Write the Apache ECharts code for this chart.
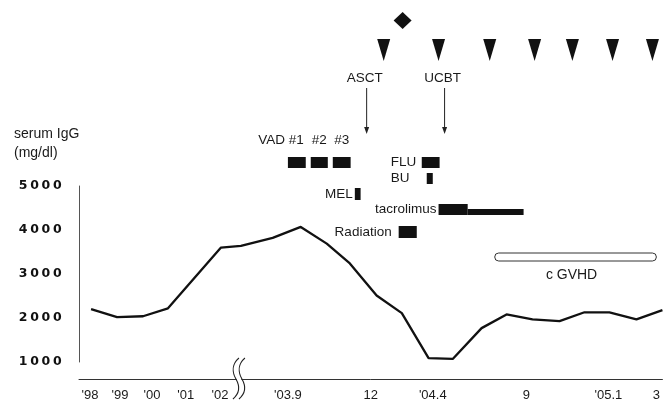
<!DOCTYPE html>
<html><head><meta charset="utf-8">
<script src="https://cdn.jsdelivr.net/npm/echarts@6/dist/echarts.min.js"></script>
<style>html,body{margin:0;padding:0;background:#fff}#c{width:663px;height:404px}</style>
</head><body><div id="c"></div>
<script>
// ---- data (x positions are in units along the broken, non-linear time axis) ----
const igX = [0.46,1.45,2.44,3.39,5.41,6.17,7.38,8.45,9.44,10.32,11.34,12.30,13.32,14.24,15.34,16.29,17.28,18.31,19.26,20.21,21.24,22.23];
const igG = [2200,2020,2040,2220,3600,3640,3820,4070,3690,3240,2510,2110,1090,1070,1770,2080,1970,1930,2130,2130,1970,2180];
const tickPos = [0.42,1.56,2.78,4.07,5.37,7.96,11.12,13.48,17.05,20.17,22.0];
const tickText = ["'98","'99","'00","'01","'02","'03.9","12","'04.4","9","'05.1","3"];
const yTicks = [1000,2000,3000,4000,5000];
const breakAt = 5.98;
const treatName  = ['VAD #1','#2','#3','FLU','BU','MEL','tacrolimus','','Radiation'];
const treatStart = [7.96,8.83,9.67,13.06,13.25,10.51,13.70,14.81,12.18];
const treatEnd   = [8.64,9.48,10.35,13.74,13.48,10.73,14.81,16.94,12.87];
const treatRow   = [0,0,0,0,1,2,3,3,4];
const treatPhase = ['full','full','full','full','full','full','full','taper','full'];
const eventName = ['ASCT','UCBT'];
const eventAt = [10.96,13.93];
const diamondAt = [12.33];
const triangleAt = [11.61,13.70,15.65,17.36,18.80,20.33,21.85];
const gvhdName = 'c GVHD';
const gvhdRange = [15.84,22.0];

// ---- layout ----
const FONT = 'Liberation Sans, Arial, sans-serif';
const INK = '#111';
const rowTop = [157,173,188,204,226];
const rowH = [11,11,12,11,12];

const chart = echarts.init(document.getElementById('c'), null, {renderer:'canvas'});
const xOf = (api, v) => api.coord([v, 1000])[0];
const txt = (x, y, text, align, size) => ({type:'text', x, y, style:{text, fill:'#1a1a1a', font: (size||13.5)+'px '+FONT, align: align||'center', verticalAlign:'middle'}});

function renderTreat(params, api){
  const i = api.value(2);
  const x0 = xOf(api, api.value(0)), x1 = xOf(api, api.value(1));
  const r = treatRow[i];
  let top = rowTop[r], h = rowH[r];
  if (treatPhase[i] === 'taper'){ top = rowTop[r] + 5; h = rowH[r] - 5; }
  const children = [{type:'rect', shape:{x:x0, y:top, width:x1-x0, height:h}, style:{fill:INK}}];
  const name = treatName[i];
  const cy = rowTop[r] + rowH[r]/2;
  if (name){
    if (r === 0 && name !== 'FLU'){
      const cx = (x0+x1)/2;
      if (name.indexOf('VAD') === 0) children.push(txt(cx+7, 140, name, 'right'));
      else children.push(txt(cx, 140, name, 'center'));
    } else if (name === 'FLU' || name === 'BU'){
      const fx = xOf(api, treatStart[treatName.indexOf('FLU')]);
      children.push(txt(fx-31, cy, name, 'left'));
    } else {
      const gap = name === 'Radiation' ? 7 : 2;
      children.push(txt(x0-gap, cy, name, 'right'));
    }
  }
  return {type:'group', children};
}
function renderTri(params, api){
  const x = xOf(api, api.value(0));
  return {type:'polygon', shape:{points:[[x-6.5,39],[x+6.5,39],[x,61]]}, style:{fill:INK}};
}
function renderDiamond(params, api){
  const x = xOf(api, api.value(0));
  return {type:'polygon', shape:{points:[[x,12],[x+9,20.5],[x,29],[x-9,20.5]]}, style:{fill:INK}};
}
function renderEvent(params, api){
  const i = params.dataIndex;
  const x = xOf(api, api.value(0));
  return {type:'group', children:[
    txt(x-2, 78, eventName[i], 'center'),
    {type:'line', shape:{x1:x, y1:88, x2:x, y2:131}, style:{stroke:'#222', lineWidth:1}},
    {type:'polygon', shape:{points:[[x-2.5,127],[x+2.5,127],[x,134]]}, style:{fill:'#222'}}
  ]};
}
function renderGvhd(params, api){
  const x0 = xOf(api, api.value(0)), x1 = xOf(api, api.value(1));
  return {type:'group', children:[
    {type:'rect', shape:{x:x0, y:253, width:x1-x0, height:8, r:4}, style:{fill:'#fff', stroke:'#333', lineWidth:1}},
    txt((x0+x1)/2-4, 275, gvhdName, 'center', 14)
  ]};
}
function renderBreak(params, api){
  const c = xOf(api, api.value(0));
  const curve = (d) => [
    {type:'bezierCurve', shape:{x1:c+3+d, y1:358, cpx1:c-4+d, cpy1:364, cpx2:c-4+d, cpy2:372, x2:c+d, y2:379}, style:{stroke:'#222', lineWidth:1.1, fill:null}},
    {type:'bezierCurve', shape:{x1:c+d, y1:379, cpx1:c+4+d, cpy1:386, cpx2:c+4+d, cpy2:393, x2:c-3+d, y2:399}, style:{stroke:'#222', lineWidth:1.1, fill:null}}
  ];
  return {type:'group', children:[
    {type:'rect', shape:{x:c+0.8, y:376, width:4.6, height:6}, style:{fill:'#fff'}},
    ...curve(0), ...curve(6)
  ]};
}

const base = {type:'custom', clip:false, silent:true, animation:false, z:5};
chart.setOption({
  animation:false,
  backgroundColor:'#fff',
  title:{text:'serum IgG\n(mg/dl)', left:9, top:120, textStyle:{fontFamily:FONT, fontSize:14, fontWeight:'normal', color:'#1a1a1a', lineHeight:19}},
  grid:{left:79, right:0, top:186, bottom:42},
  xAxis:{type:'value', min:0, max:22.23, offset:17,
    axisLine:{show:true, lineStyle:{color:'#333', width:1}}, axisTick:{show:false}, splitLine:{show:false},
    axisLabel:{customValues:tickPos, margin:10, fontFamily:FONT, fontSize:13, color:'#1a1a1a',
      formatter:(v)=>{let k=0,b=1e9;tickPos.forEach((p,i)=>{if(Math.abs(p-v)<b){b=Math.abs(p-v);k=i;}});return tickText[k];}}
  },
  yAxis:{type:'value', min:yTicks[0], max:yTicks[yTicks.length-1], interval:1000,
    axisLine:{show:true, lineStyle:{color:'#555', width:1}}, axisTick:{show:false}, splitLine:{show:false},
    axisLabel:{margin:16, formatter:(v)=>String(v).split('').map(d=>'{d|'+d+'}').join(''),
      rich:{d:{width:11.4, align:'center', fontFamily:'DejaVu Sans', fontWeight:'bold', fontSize:12.5, color:'#111'}}}
  },
  series:[
    {type:'line', data:igX.map((x,i)=>[x, igG[i]]), showSymbol:false, clip:false, z:4,
     lineStyle:{color:INK, width:2.3}},
    Object.assign({}, base, {renderItem:renderTreat, encode:{x:[0,1]}, data:treatName.map((n,i)=>[treatStart[i], treatEnd[i], i])}),
    Object.assign({}, base, {renderItem:renderTri, encode:{x:0}, data:triangleAt.map(x=>[x])}),
    Object.assign({}, base, {renderItem:renderDiamond, encode:{x:0}, data:diamondAt.map(x=>[x])}),
    Object.assign({}, base, {renderItem:renderEvent, encode:{x:0}, data:eventAt.map(x=>[x])}),
    Object.assign({}, base, {renderItem:renderGvhd, encode:{x:[0,1]}, data:[gvhdRange]}),
    Object.assign({}, base, {renderItem:renderBreak, encode:{x:0}, data:[[breakAt]], z:10})
  ]
});
</script></body></html>
